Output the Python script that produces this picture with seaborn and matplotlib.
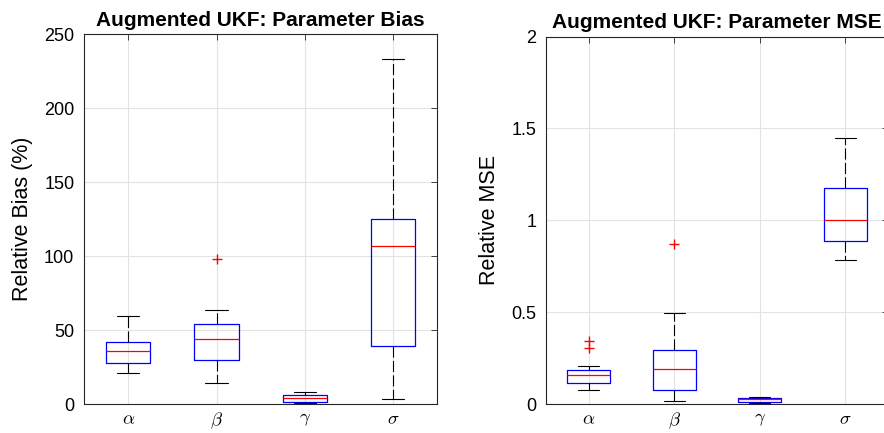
import numpy as np
import pandas as pd
import matplotlib
matplotlib.use("Agg")
import matplotlib.pyplot as plt
import seaborn as sns

# Parameter names and their axis labels
params = ["alpha", "beta", "gamma", "sigma"]
param_labels = [r"$\alpha$", r"$\beta$", r"$\gamma$", r"$\sigma$"]

# Relative bias (%) summary per parameter
bias_low = [20.7, 14.2, 0.4, 3.4]
bias_q1 = [27.7, 29.7, 1.1, 39.2]
bias_med = [35.6, 43.7, 3.8, 107.0]
bias_q3 = [41.7, 54.3, 5.8, 125.0]
bias_high = [59.7, 63.7, 8.1, 233.0]
bias_outliers = [[], [98.0], [], []]

# Relative MSE summary per parameter
mse_low = [0.074, 0.014, 0.003, 0.783]
mse_q1 = [0.114, 0.078, 0.011, 0.888]
mse_med = [0.160, 0.192, 0.025, 1.000]
mse_q3 = [0.183, 0.292, 0.034, 1.176]
mse_high = [0.205, 0.496, 0.040, 1.446]
mse_outliers = [[0.303, 0.342], [0.871], [], []]


def samples(low, q1, med, q3, high, outliers):
    """Long-form sample whose quartiles, whisker ends and outliers are the given ones."""
    rows = []
    for p, lo, a, m, b, hi, out in zip(params, low, q1, med, q3, high, outliers):
        vals = [lo] + [a] * 3 + [m] * 3 + [b] * 3 + [hi] + list(out)
        rows += [(p, v) for v in vals]
    return pd.DataFrame(rows, columns=["param", "value"])


bias_df = samples(bias_low, bias_q1, bias_med, bias_q3, bias_high, bias_outliers)
mse_df = samples(mse_low, mse_q1, mse_med, mse_q3, mse_high, mse_outliers)

sns.set_style("white")
plt.rcParams["font.family"] = ["Liberation Sans", "DejaVu Sans"]
plt.rcParams["mathtext.fontset"] = "cm"
plt.rcParams["text.color"] = "black"
plt.rcParams["axes.labelcolor"] = "black"

edge = "#262626"
fig = plt.figure(figsize=(8.84, 4.33), dpi=100)
ax1 = fig.add_axes([0.0950, 0.06697, 0.39990, 0.85450])
ax2 = fig.add_axes([0.61765, 0.06697, 0.38688, 0.84873])

box_kw = dict(
    order=params, width=0.5, fill=False, whis=1.5, linewidth=0.9,
    boxprops=dict(color="blue", linewidth=0.9),
    medianprops=dict(color="red", linewidth=0.9),
    whiskerprops=dict(color="black", linestyle=(0, (10, 3)), linewidth=0.8),
    capprops=dict(color="black", linewidth=0.8),
    flierprops=dict(marker="+", markeredgecolor="red", markerfacecolor="none",
                    markersize=7, markeredgewidth=1.0),
)

panels = [
    (ax1, bias_df, "Augmented UKF: Parameter Bias", "Relative Bias (%)",
     (0, 250), [0, 50, 100, 150, 200, 250], ["0", "50", "100", "150", "200", "250"]),
    (ax2, mse_df, "Augmented UKF: Parameter MSE", "Relative MSE",
     (0, 2), [0, 0.5, 1, 1.5, 2], ["0", "0.5", "1", "1.5", "2"]),
]

for ax, df, title, ylabel, ylim, yticks, yticklabels in panels:
    sns.boxplot(data=df, x="param", y="value", ax=ax, **box_kw)
    ax.set_xlim(-0.5, 3.5)
    ax.set_ylim(*ylim)
    ax.set_xticks(range(len(params)))
    ax.set_xticklabels(param_labels, fontsize=13.5)
    ax.set_yticks(yticks)
    ax.set_yticklabels(yticklabels, fontsize=13)
    ax.set_xlabel("")
    ax.set_ylabel(ylabel, fontsize=15.5, labelpad=8)
    ax.set_title(title, fontsize=15, fontweight="bold", pad=6)
    ax.grid(True, color="#e3e3e3", linewidth=0.8)
    ax.set_axisbelow(True)
    ax.tick_params(direction="in", top=True, right=True, length=4, width=0.6,
                   color=edge, labelcolor="black")
    ax.tick_params(axis="y", pad=7)
    ax.tick_params(axis="x", pad=5)
    for s in ax.spines.values():
        s.set_visible(True)
        s.set_color(edge)
        s.set_linewidth(0.8)

fig.savefig("out.png", dpi=100)
